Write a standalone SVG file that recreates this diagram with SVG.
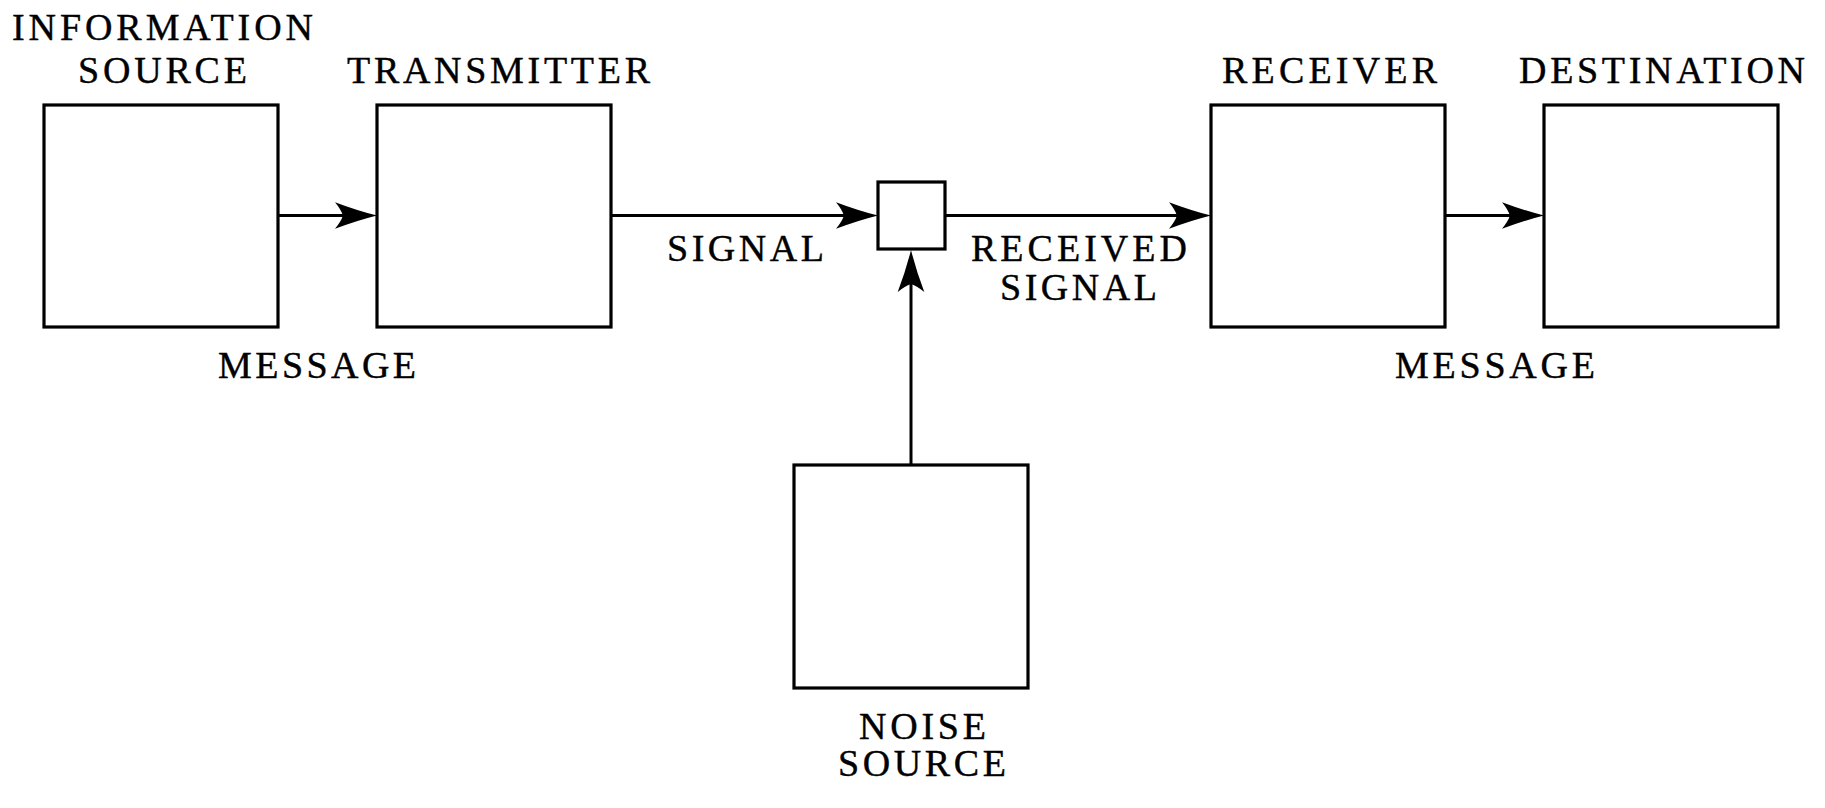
<svg xmlns="http://www.w3.org/2000/svg" width="1825" height="808" viewBox="0 0 1825 808">
<style>
.box{fill:#fff;stroke:#000;stroke-width:3.2}
.ln{stroke:#000;stroke-width:3;fill:none}
</style>
<defs>
<marker id="ah" markerUnits="userSpaceOnUse" viewBox="-45 -15 47 30" refX="-30" refY="0" markerWidth="47" markerHeight="30" orient="auto">
<path d="M0,0 Q-20,-5 -42,-13.3 Q-36,-6 -34,0 Q-36,6 -42,13.3 Q-20,5 0,0 Z" fill="#000"/>
</marker>
</defs>
<rect width="1825" height="808" fill="#fff"/>
<g id="connectors">
<line class="ln" x1="278" y1="215.5" x2="347" y2="215.5" marker-end="url(#ah)"/>
<line class="ln" x1="611" y1="215.5" x2="848" y2="215.5" marker-end="url(#ah)"/>
<line class="ln" x1="945" y1="215.5" x2="1181" y2="215.5" marker-end="url(#ah)"/>
<line class="ln" x1="1445" y1="215.5" x2="1514" y2="215.5" marker-end="url(#ah)"/>
<line class="ln" x1="911" y1="465" x2="911" y2="280" marker-end="url(#ah)"/>
</g>
<g font-family="Liberation Serif" font-size="38" fill="#000" stroke="#000" stroke-width="0.4">
<g id="info-source">
<rect class="box" x="44" y="105" width="234" height="222"/>
<text x="12" y="40" textLength="301" lengthAdjust="spacing">INFORMATION</text>
<text x="78" y="83" textLength="169" lengthAdjust="spacing">SOURCE</text>
</g>
<g id="transmitter">
<rect class="box" x="377" y="105" width="234" height="222"/>
<text x="347" y="83" textLength="303" lengthAdjust="spacing">TRANSMITTER</text>
</g>
<g id="channel">
<rect class="box" x="878" y="182" width="67" height="67"/>
</g>
<g id="receiver">
<rect class="box" x="1211" y="105" width="234" height="222"/>
<text x="1222" y="83" textLength="215" lengthAdjust="spacing">RECEIVER</text>
</g>
<g id="destination">
<rect class="box" x="1544" y="105" width="234" height="222"/>
<text x="1519" y="83" textLength="286" lengthAdjust="spacing">DESTINATION</text>
</g>
<g id="noise-source">
<rect class="box" x="794" y="465" width="234" height="223"/>
<text x="859" y="739" textLength="127" lengthAdjust="spacing">NOISE</text>
<text x="838" y="776" textLength="168" lengthAdjust="spacing">SOURCE</text>
</g>
<g id="labels">
<text x="218" y="378" textLength="198" lengthAdjust="spacing">MESSAGE</text>
<text x="667" y="261" textLength="157" lengthAdjust="spacing">SIGNAL</text>
<text x="971" y="261" textLength="216" lengthAdjust="spacing">RECEIVED</text>
<text x="1000" y="300" textLength="157" lengthAdjust="spacing">SIGNAL</text>
<text x="1395" y="378" textLength="200" lengthAdjust="spacing">MESSAGE</text>
</g>
</g>
</svg>
